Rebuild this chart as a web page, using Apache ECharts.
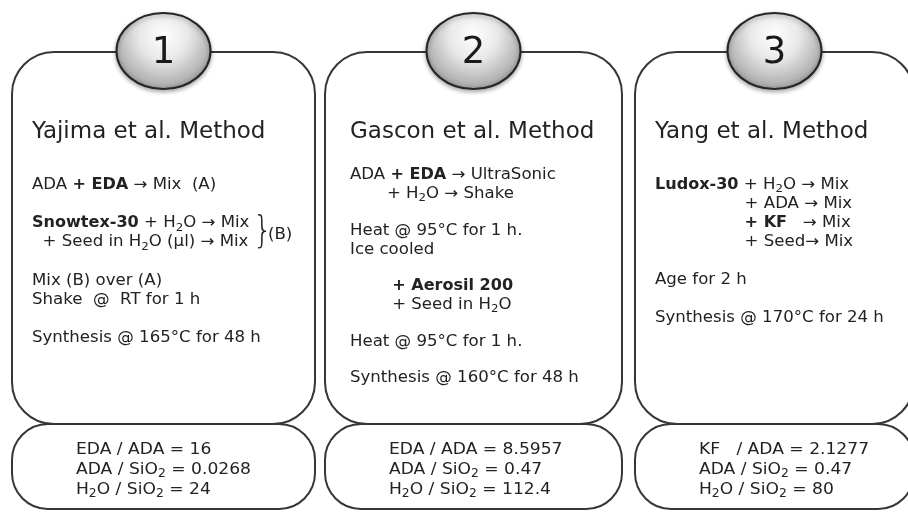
<!DOCTYPE html>
<html>
<head>
<meta charset="utf-8">
<script src="https://cdn.jsdelivr.net/npm/echarts@6/dist/echarts.min.js"></script>
<style>
  html, body { margin: 0; padding: 0; background: #fff; }
  #main { width: 908px; height: 512px; }
</style>
</head>
<body>
<div id="main"></div>
<script>
// --- content of the three panels ---
const methodNumbers = ['1', '2', '3']
const methodTitles = ['Yajima et al. Method', 'Gascon et al. Method', 'Yang et al. Method']

// each panel: paragraphs -> lines (rich text, {b|} bold, {s|} subscript)
const yajimaSteps = [
  ['ADA {b|+ EDA} → Mix  (A)'],
  ['{b|Snowtex-30} + H{s|2}O → Mix', '  + Seed in H{s|2}O (μl) → Mix'],
  ['Mix (B) over (A)', 'Shake  @  RT for 1 h'],
  ['Synthesis @ 165°C for 48 h']
]
const gasconSteps = [
  ['ADA {b|+ EDA} → UltraSonic', '       + H{s|2}O → Shake'],
  ['Heat @ 95°C for 1 h.', 'Ice cooled'],
  ['        {b|+ Aerosil 200}', '        + Seed in H{s|2}O'],
  ['Heat @ 95°C for 1 h.'],
  ['Synthesis @ 160°C for 48 h']
]
const yangSteps = [
  [
    '{b|Ludox-30} + H{s|2}O → Mix',
    '                 + ADA → Mix',
    '                 {b|+ KF}   → Mix',
    '                 + Seed→ Mix'
  ],
  ['Age for 2 h'],
  ['Synthesis @ 170°C for 24 h']
]

const yajimaRatios = ['EDA / ADA = 16', 'ADA / SiO{s|2} = 0.0268', 'H{s|2}O / SiO{s|2} = 24']
const gasconRatios = ['EDA / ADA = 8.5957', 'ADA / SiO{s|2} = 0.47', 'H{s|2}O / SiO{s|2} = 112.4']
const yangRatios = ['KF   / ADA = 2.1277', 'ADA / SiO{s|2} = 0.47', 'H{s|2}O / SiO{s|2} = 80']

const allSteps = [yajimaSteps, gasconSteps, yangSteps]
const allRatios = [yajimaRatios, gasconRatios, yangRatios]

// --- layout ---
const boxLeft = [12, 325, 635]
const boxRight = [315, 622, 914]
const textPad = [20, 25, 20]
const bodyTop = [185, 175, 185]
const paraGap = [19.3, 17.5, 19]
const mainTop = 52
const mainBottom = 424
const lowBottom = 509
const lineStep = 19

const FONT = '"DejaVu Sans", Verdana, sans-serif'
const INK = '#222'
const EDGE = '#363636'

function richStyles (size, boldSize, subSize) {
  return {
    b: { fontSize: boldSize, fontFamily: FONT, fontWeight: 'bold', fill: INK },
    s: { fontSize: subSize, fontFamily: FONT, fill: INK, padding: [9, 0, 0, 0] }
  }
}
const BODY_SIZE = 15.5
const RATIO_SIZE = 16
const bodyRich = richStyles(BODY_SIZE, 15, 11)
const ratioRich = richStyles(RATIO_SIZE, 15.5, 11.5)

function textEl (x, y, text, size, rich, sx) {
  return {
    type: 'text',
    x: x,
    y: y,
    z: 10,
    scaleX: sx || 1,
    style: {
      text: text,
      fontSize: size,
      fontFamily: FONT,
      fill: INK,
      rich: rich,
      verticalAlign: 'middle',
      textVerticalAlign: 'middle'
    }
  }
}

const elements = []

methodNumbers.forEach((num, i) => {
  const left = boxLeft[i]
  const right = boxRight[i]
  const mid = (left + right) / 2

  // main rounded box
  elements.push({
    type: 'rect',
    z: 1,
    shape: { x: left, y: mainTop, width: right - left, height: mainBottom - mainTop, r: 42 },
    style: { fill: 'none', stroke: EDGE, lineWidth: 2 }
  })
  // lower ratio box
  elements.push({
    type: 'rect',
    z: 1,
    shape: { x: left, y: mainBottom, width: right - left, height: lowBottom - mainBottom, r: 36 },
    style: { fill: 'none', stroke: EDGE, lineWidth: 2 }
  })

  // number bubble
  elements.push({
    type: 'ellipse',
    z: 5,
    shape: { cx: mid, cy: 51, rx: 47, ry: 38 },
    style: {
      fill: new echarts.graphic.RadialGradient(0.5, 0.3, 0.78, [
        { offset: 0, color: '#ffffff' },
        { offset: 0.4, color: '#e8e8e8' },
        { offset: 0.78, color: '#b5b5b5' },
        { offset: 1, color: '#808080' }
      ]),
      stroke: '#262626',
      lineWidth: 2,
      shadowBlur: 4,
      shadowOffsetY: 2,
      shadowColor: 'rgba(0,0,0,0.3)'
    }
  })
  elements.push({
    type: 'text',
    z: 10,
    x: mid,
    y: 53,
    style: {
      text: num,
      fontSize: 37,
      fontFamily: FONT,
      fill: '#1a1a1a',
      align: 'center',
      textAlign: 'center',
      verticalAlign: 'middle',
      textVerticalAlign: 'middle'
    }
  })

  // title
  const tx = left + textPad[i]
  elements.push(textEl(tx, 132, methodTitles[i], 23, null, 1))

  // steps
  let y = bodyTop[i]
  allSteps[i].forEach((para, p) => {
    if (p > 0) y += paraGap[i]
    para.forEach(line => {
      elements.push(textEl(tx, y, line, BODY_SIZE, bodyRich, 1.07))
      y += lineStep
    })
  })

  // ratios
  allRatios[i].forEach((line, k) => {
    elements.push(textEl(left + 64, 450 + k * 20, line, RATIO_SIZE, ratioRich, 1.07))
  })
})

// brace marking step group (B) in panel 1
elements.push({
  type: 'text',
  z: 10,
  x: 253,
  y: 232,
  scaleX: 0.8,
  style: {
    text: '}',
    fontSize: 38,
    fontFamily: FONT,
    fontWeight: 'lighter',
    fill: INK,
    verticalAlign: 'middle',
    textVerticalAlign: 'middle'
  }
})
elements.push(textEl(268, 235, '(B)', BODY_SIZE, null, 1.07))

const chart = echarts.init(document.getElementById('main'))
chart.setOption({
  backgroundColor: '#fff',
  animation: false,
  graphic: { elements: elements }
})
</script>
</body>
</html>
